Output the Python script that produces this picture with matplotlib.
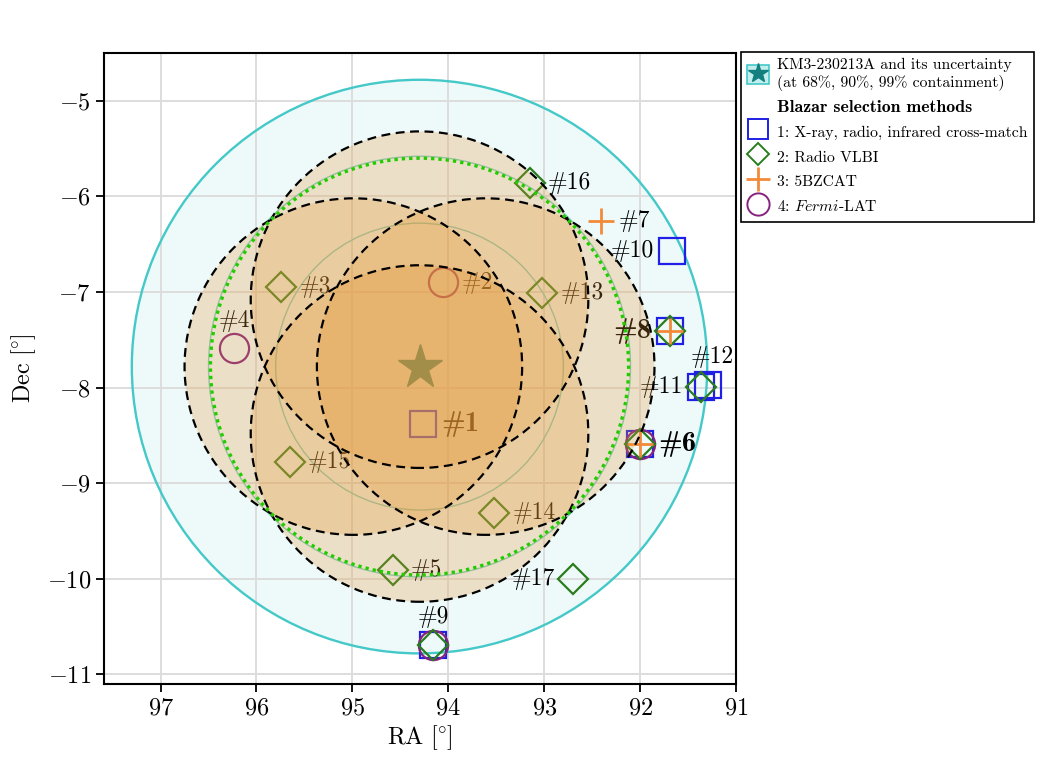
import matplotlib
matplotlib.use('Agg')
import matplotlib.pyplot as plt
from matplotlib.patches import Circle, Patch
from matplotlib.lines import Line2D
from matplotlib.legend_handler import HandlerTuple

plt.rcParams.update({'font.family': ['cmr10', 'DejaVu Serif'],
                     'mathtext.fontset': 'cm',
                     'axes.formatter.use_mathtext': True,
                     'font.size': 15})

# KM3-230213A best fit and containment radii (68, 90, 99 %)
event_ra, event_dec = 94.30, -7.78
cl_radii = [1.5, 2.2, 3.0]
ring_radius = 2.18

# shifted uncertainty regions (dashed, orange)
shift_ra = [94.30, 94.30, 94.99, 93.61]
shift_dec = [-7.08, -8.48, -7.78, -7.78]
shift_radius = 1.76

# blazar candidates
src_id = list(range(1, 18))
src_ra = [94.26, 94.05, 95.74, 96.23, 94.58, 92.00, 92.41, 91.69, 94.16,
          91.67, 91.36, 91.29, 93.02, 93.52, 95.65, 93.15, 92.70]
src_dec = [-8.38, -6.90, -6.95, -7.59, -9.91, -8.59, -6.26, -7.41, -10.69,
           -6.57, -7.99, -7.97, -7.01, -9.31, -8.78, -5.86, -10.00]

sel_xray = [1, 6, 8, 9, 10, 11, 12]
sel_vlbi = [3, 5, 6, 8, 9, 11, 13, 14, 15, 16, 17]
sel_bzcat = [6, 7, 8]
sel_fermi = [2, 4, 6, 9]
bold_ids = [1, 6, 8]

# label placement: 'r' right, 'l' left, 'u' above
label_pos = {4: 'u', 8: 'l', 9: 'u', 10: 'l', 11: 'l', 12: 'u', 17: 'l'}

c_sq, c_dia, c_cross, c_circ = '#1f1fe6', '#2a7d1e', '#f28a3a', '#85237f'

fig = plt.figure(figsize=(10.42, 7.58), dpi=100)
ax = fig.add_axes([104/1042, 1-684/758, (736-104)/1042, (684-53)/758])

ax.add_patch(Circle((event_ra, event_dec), cl_radii[2], facecolor='#48d1cc',
                    alpha=0.09, edgecolor='none', zorder=0.4))
ax.add_patch(Circle((event_ra, event_dec), cl_radii[2], facecolor='none',
                    edgecolor='#44c8c8', lw=1.7, zorder=1))
for r in cl_radii[:2]:
    ax.add_patch(Circle((event_ra, event_dec), r, facecolor='none',
                        edgecolor='#7fcfc4', lw=1.0, zorder=1))

ax.plot([event_ra], [event_dec], marker='*', ms=33, color='#137f7f', ls='', zorder=2)

def pick(ids):
    return [src_ra[i-1] for i in ids], [src_dec[i-1] for i in ids]

x, y = pick(sel_xray)
ax.plot(x, y, 's', ms=19, mfc='none', mec=c_sq, mew=1.6, zorder=2)
x, y = pick(sel_fermi)
ax.plot(x, y, 'o', ms=21, mfc='none', mec=c_circ, mew=1.6, zorder=2)
x, y = pick(sel_vlbi)
ax.plot(x, y, 'D', ms=15, mfc='none', mec=c_dia, mew=1.6, zorder=2)
x, y = pick(sel_bzcat)
ax.plot(x, y, '+', ms=19, mec=c_cross, mew=2.0, zorder=2)

for i, ra, dec in zip(src_id, src_ra, src_dec):
    pos = label_pos.get(i, 'r')
    if pos == 'r':
        off, ha, va = (13, 0), 'left', 'center'
    elif pos == 'l':
        off, ha, va = (-13, 0), 'right', 'center'
    else:
        off, ha, va = (3 if i == 12 else 0, 12), 'center', 'bottom'
    if i in bold_ids:
        fam, fs = ['cmb10', 'DejaVu Serif'], 20.5
    else:
        fam, fs = ['cmr10', 'DejaVu Serif'], 17
    ax.annotate('#%d' % i, (ra, dec), xytext=off, textcoords='offset points',
                ha=ha, va=va, fontsize=fs, family=fam, zorder=2.5)

for ra, dec in zip(shift_ra, shift_dec):
    ax.add_patch(Circle((ra, dec), shift_radius, facecolor='#e69632',
                        alpha=0.25, edgecolor='none', zorder=3))
    ax.add_patch(Circle((ra, dec), shift_radius, facecolor='none',
                        edgecolor='black', lw=1.6, ls=(0, (4, 2.5)), zorder=4))

ax.add_patch(Circle((event_ra, event_dec), ring_radius, facecolor='none',
                    edgecolor='#22cc00', lw=2.4, ls=(0, (1, 1.2)), zorder=4))

ax.set_xlim(97.59, 91.0)
ax.set_ylim(-11.1, -4.5)
ax.set_xticks([97, 96, 95, 94, 93, 92, 91])
ax.set_yticks([-5, -6, -7, -8, -9, -10, -11])
ax.grid(True, color='#dddddd', lw=1.4)
ax.set_axisbelow(True)
ax.tick_params(length=6, width=1.3, labelsize=17.5, top=False, right=False)
for s in ax.spines.values():
    s.set_linewidth(1.5)
ax.set_xlabel(r'$\mathrm{RA}\ [\!^\circ\!]$', fontsize=17.5, labelpad=3)
ax.set_ylabel(r'$\mathrm{Dec}\ [\!^\circ\!]$', fontsize=17.5, labelpad=6)

handles = [
    (Patch(facecolor='#c4eeee', edgecolor='#44c8c8', lw=1.2),
     Line2D([], [], ls='', marker='*', ms=15, color='#137f7f')),
    Line2D([], [], ls='', marker=None),
    Line2D([], [], ls='', marker='s', ms=14, mfc='none', mec=c_sq, mew=1.4),
    Line2D([], [], ls='', marker='D', ms=11.5, mfc='none', mec=c_dia, mew=1.4),
    Line2D([], [], ls='', marker='+', ms=17, mec=c_cross, mew=2.0),
    Line2D([], [], ls='', marker='o', ms=16, mfc='none', mec=c_circ, mew=1.4),
]
labels = ['KM3-230213A and its uncertainty\n(at 68%, 90%, 99% containment)',
          'Blazar selection methods',
          '1: X-ray, radio, infrared cross-match',
          '2: Radio VLBI',
          '3: 5BZCAT',
          r'4: $\mathit{Fermi}$-LAT']
leg = fig.legend(handles, labels, loc='upper left',
                 bbox_to_anchor=(741/1042, 1-52/758), borderaxespad=0,
                 fontsize=11.3, handlelength=1.4, handleheight=1.45,
                 handletextpad=0.5, labelspacing=0.4, borderpad=0.4,
                 fancybox=False, edgecolor='black', framealpha=1,
                 handler_map={tuple: HandlerTuple(ndivide=1)})
leg.get_frame().set_linewidth(1.2)
leg.get_texts()[1].set_fontfamily(['cmb10', 'DejaVu Serif'])
leg.get_texts()[1].set_fontsize(12.8)

fig.savefig('out.png', dpi=100)
